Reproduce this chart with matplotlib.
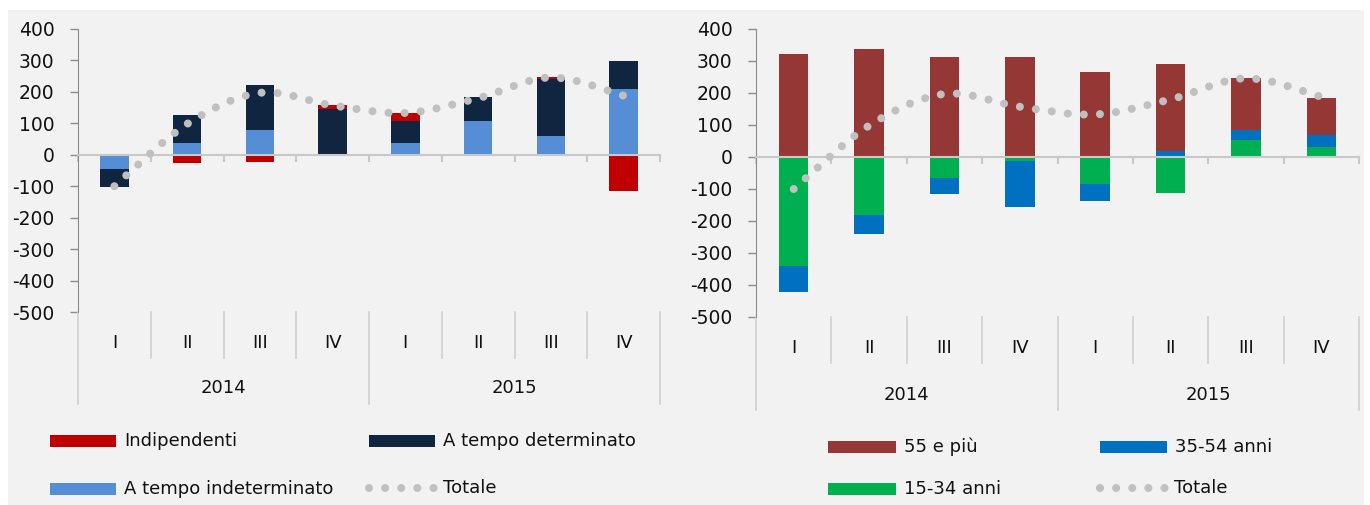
import numpy as np
import matplotlib
matplotlib.use("Agg")
import matplotlib.pyplot as plt
from matplotlib.path import Path
from matplotlib.patches import PathPatch, Rectangle
from matplotlib.lines import Line2D
import matplotlib.transforms as mtransforms

plt.rcParams['font.family'] = ['DejaVu Sans']
plt.rcParams['axes.unicode_minus'] = False

# Dati (migliaia, variazioni tendenziali)
trimestri = ["I", "II", "III", "IV", "I", "II", "III", "IV"]
anni = ["2014", "2015"]

# grafico sinistro: per posizione professionale
indipendenti = [4, -27, -24, 10, 26, -4, 6, -115]
determinato = [-60, 87, 144, 145, 71, 77, 180, 90]
indeterminato = [-44, 38, 79, 2, 36, 106, 61, 208]

# grafico destro: per classe di età
eta_55 = [321, 337, 311, 312, 267, 270, 163, 114]
eta_35_54 = [-82, -60, -49, -146, -51, 20, 29, 39]
eta_15_34 = [-340, -180, -66, -11, -85, -111, 54, 30]

totale = [-100, 98, 197, 157, 133, 180, 246, 188]

W, H = 1370, 505
GRAY_DOT = '#C0C0C0'
TXT = '#111111'
FS = 13
LW_DOT = 5.8
DASH = (0, (0.001, 2.0))


def px(x, y):
    # pixel (dall'alto a sinistra) -> coordinate figura
    return x / W, 1 - y / H


def barre_impilate(ax, serie, colori, larghezza=0.39):
    # Excel impila positivi e negativi separatamente
    x = np.arange(len(serie[0]))
    pos = np.zeros(len(x))
    neg = np.zeros(len(x))
    for valori, col in zip(serie, colori):
        v = np.array(valori, dtype=float)
        base = np.where(v >= 0, pos, neg)
        ax.bar(x, v, bottom=base, width=larghezza, color=col, linewidth=0, zorder=2)
        pos = pos + np.where(v >= 0, v, 0)
        neg = neg + np.where(v < 0, v, 0)


def linea_smussata(ax, valori):
    # curva di Bezier che passa per i punti (come la linea smussata di Excel)
    x = np.arange(len(valori), dtype=float)
    y = np.array(valori, dtype=float)
    P = np.column_stack([x, y])
    Pe = np.vstack([P[0], P, P[-1]])
    verts = [P[0]]
    codes = [Path.MOVETO]
    for i in range(len(P) - 1):
        c1 = Pe[i + 1] + (Pe[i + 2] - Pe[i]) / 6
        c2 = Pe[i + 2] - (Pe[i + 3] - Pe[i + 1]) / 6
        verts += [c1, c2, Pe[i + 2]]
        codes += [Path.CURVE4] * 3
    patch = PathPatch(Path(verts, codes), fill=False, edgecolor=GRAY_DOT,
                      linewidth=LW_DOT, linestyle=DASH,
                      capstyle='round', zorder=3)
    ax.add_patch(patch)


def assi(ax, fondo_q, fondo_a, lab_q, lab_a):
    ax.set_facecolor('none')
    ax.set_xlim(-0.5, 7.5)
    ax.set_ylim(-500, 400)
    ax.set_yticks(np.arange(-500, 401, 100))
    ax.tick_params(axis='y', direction='out', length=5.8, width=1, color='#8C8C8C',
                   labelsize=13.5, labelcolor=TXT, pad=11)
    for s in ['top', 'right']:
        ax.spines[s].set_visible(False)
    ax.spines['left'].set_color('#8C8C8C')
    ax.spines['bottom'].set_position(('data', 0))
    ax.spines['bottom'].set_color('#C8C8C8')
    ax.spines['bottom'].set_linewidth(1.5)
    ax.set_xticks(np.arange(-0.5, 8, 1))
    ax.set_xticklabels([])
    ax.tick_params(axis='x', direction='out', length=5, width=1.5, color='#C8C8C8')

    tr = mtransforms.blended_transform_factory(ax.transData, ax.transAxes)
    for i, q in enumerate(trimestri):
        ax.text(i, lab_q, q, transform=tr, ha='center', va='center',
                fontsize=FS, color=TXT)
    for k, a in enumerate(anni):
        ax.text(k * 4 + 1.5, lab_a, a, transform=tr, ha='center', va='center',
                fontsize=FS, color=TXT)
    for b in np.arange(0.5, 7, 1):
        if b == 3.5:
            continue
        ax.add_line(Line2D([b, b], [0, fondo_q], transform=tr, color='#D0D0D0',
                           lw=1.2, clip_on=False))
    for b in [-0.5, 3.5, 7.5]:
        ax.add_line(Line2D([b, b], [0, fondo_a], transform=tr, color='#D0D0D0',
                           lw=1.2, clip_on=False))


def voce_legenda(fig, x0, x1, yc, colore, testo, linea=False):
    if linea:
        a, yy = px(x0, yc)
        b, _ = px(x1, yc)
        fig.add_artist(Line2D([a, b], [yy, yy], transform=fig.transFigure,
                              color=GRAY_DOT, linewidth=LW_DOT,
                              linestyle=DASH, dash_capstyle='round'))
        tx, ty = px(x1 + 9, yc)
    else:
        a, b = px(x0, yc + 6)
        fig.add_artist(Rectangle((a, b), (x1 - x0) / W, 12 / H,
                                 transform=fig.transFigure, color=colore, lw=0))
        tx, ty = px(x1 + 8, yc)
    fig.text(tx, ty, testo, fontsize=FS, color=TXT, ha='left', va='center')


fig = plt.figure(figsize=(W / 100, H / 100), dpi=100, facecolor='white')
fig.add_artist(Rectangle(px(8, H), 1356 / W, 495 / H, transform=fig.transFigure,
                         color='#F2F2F2', lw=0, zorder=-10))

# grafico sinistro
ax1 = fig.add_axes([78 / W, 1 - 312 / H, 582 / W, 283 / H])
barre_impilate(ax1, [indeterminato, determinato, indipendenti],
               ['#558ED5', '#10253F', '#C00000'])
linea_smussata(ax1, totale)
assi(ax1, -0.163, -0.325, -0.110, -0.269)

# grafico destro
ax2 = fig.add_axes([756 / W, 1 - 317 / H, 603 / W, 288 / H])
barre_impilate(ax2, [eta_15_34, eta_35_54, eta_55],
               ['#00B050', '#0070C0', '#953735'])
linea_smussata(ax2, totale)
assi(ax2, -0.160, -0.323, -0.108, -0.271)

# legende
voce_legenda(fig, 50, 116, 441, '#C00000', 'Indipendenti')
voce_legenda(fig, 369, 435, 441, '#10253F', 'A tempo determinato')
voce_legenda(fig, 50, 116, 489, '#558ED5', 'A tempo indeterminato')
voce_legenda(fig, 369, 434, 488, None, 'Totale', linea=True)

voce_legenda(fig, 828, 896, 447, '#953735', '55 e più')
voce_legenda(fig, 1100, 1167, 447, '#0070C0', '35-54 anni')
voce_legenda(fig, 828, 896, 489, '#00B050', '15-34 anni')
voce_legenda(fig, 1100, 1165, 488, None, 'Totale', linea=True)

fig.savefig('out.png', dpi=100, facecolor=fig.get_facecolor())
